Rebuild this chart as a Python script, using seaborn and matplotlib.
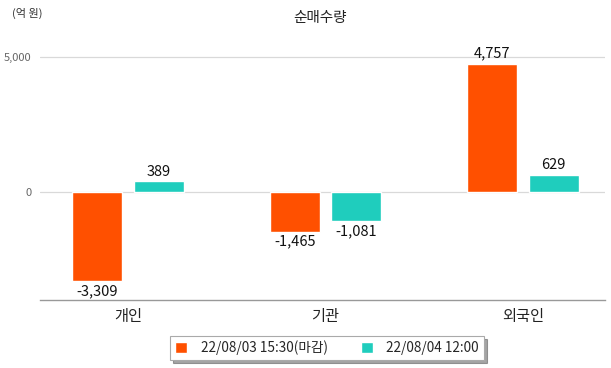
import numpy as np
import pandas as pd
import matplotlib
matplotlib.use("Agg")
import matplotlib.pyplot as plt
import seaborn as sns

# данные
categories = ["개인", "기관", "외국인"]
series_names = ["22/08/03 15:30(마감)", "22/08/04 12:00"]
values_0803 = [-3309, -1465, 4757]
values_0804 = [389, -1081, 629]
colors = ["#ff5000", "#1fcdbd"]

df = pd.DataFrame({
    "cat": categories * 2,
    "series": [series_names[0]] * 3 + [series_names[1]] * 3,
    "value": values_0803 + values_0804,
})

sns.set_theme(style="white")
plt.rcParams["font.family"] = ["Noto Sans CJK KR", "DejaVu Sans"]

fig = plt.figure(figsize=(6.11, 3.68), dpi=100)
ax = fig.add_axes([40 / 611, 1 - 300 / 368, 565 / 611, 270 / 368])

sns.barplot(data=df, x="cat", y="value", hue="series", palette=colors,
            width=0.623, gap=0.19, ax=ax, legend=True, saturation=1)

ax.set_xlim(-0.446, 2.415)
ax.set_ylim(-4000, 6000)
ax.set_yticks([0, 5000])
ax.set_yticklabels(["0", "5,000"], color="#666666", fontsize=8)
ax.tick_params(axis="y", length=0, pad=6)
ax.tick_params(axis="x", length=0, labelsize=11, colors="#222222", pad=6)
ax.set_xlabel("")
ax.set_ylabel("")
for y in [0, 5000]:
    ax.axhline(y, color="#d9d9d9", lw=0.9, zorder=0)

for s in ["top", "right", "left"]:
    ax.spines[s].set_visible(False)
ax.spines["bottom"].set_color("#999999")
ax.spines["bottom"].set_linewidth(1)

for cont in ax.containers:
    ax.bar_label(cont, labels=[f"{v:,.0f}" for v in cont.datavalues],
                 padding=2, fontsize=10.5, color="#111111")

handles, labels = ax.get_legend_handles_labels()
ax.legend_.remove()
leg = fig.legend(handles, labels, loc="center", bbox_to_anchor=(327 / 611, 1 - 348 / 368),
                 ncol=2, frameon=True, fontsize=9.8, handlelength=0.9, handleheight=0.9,
                 columnspacing=2.4, fancybox=False, shadow=True, borderpad=0.35,
                 handletextpad=1.0)
leg.get_frame().set_edgecolor("#aaaaaa")
leg.get_frame().set_linewidth(0.8)

fig.text(320 / 611, 1 - 18 / 368, "순매수량", ha="center", va="center", fontsize=10.5, color="#222222")
fig.text(12 / 611, 1 - 13 / 368, "(억 원)", ha="left", va="center", fontsize=8, color="#333333")

fig.savefig("out.png", dpi=100)
